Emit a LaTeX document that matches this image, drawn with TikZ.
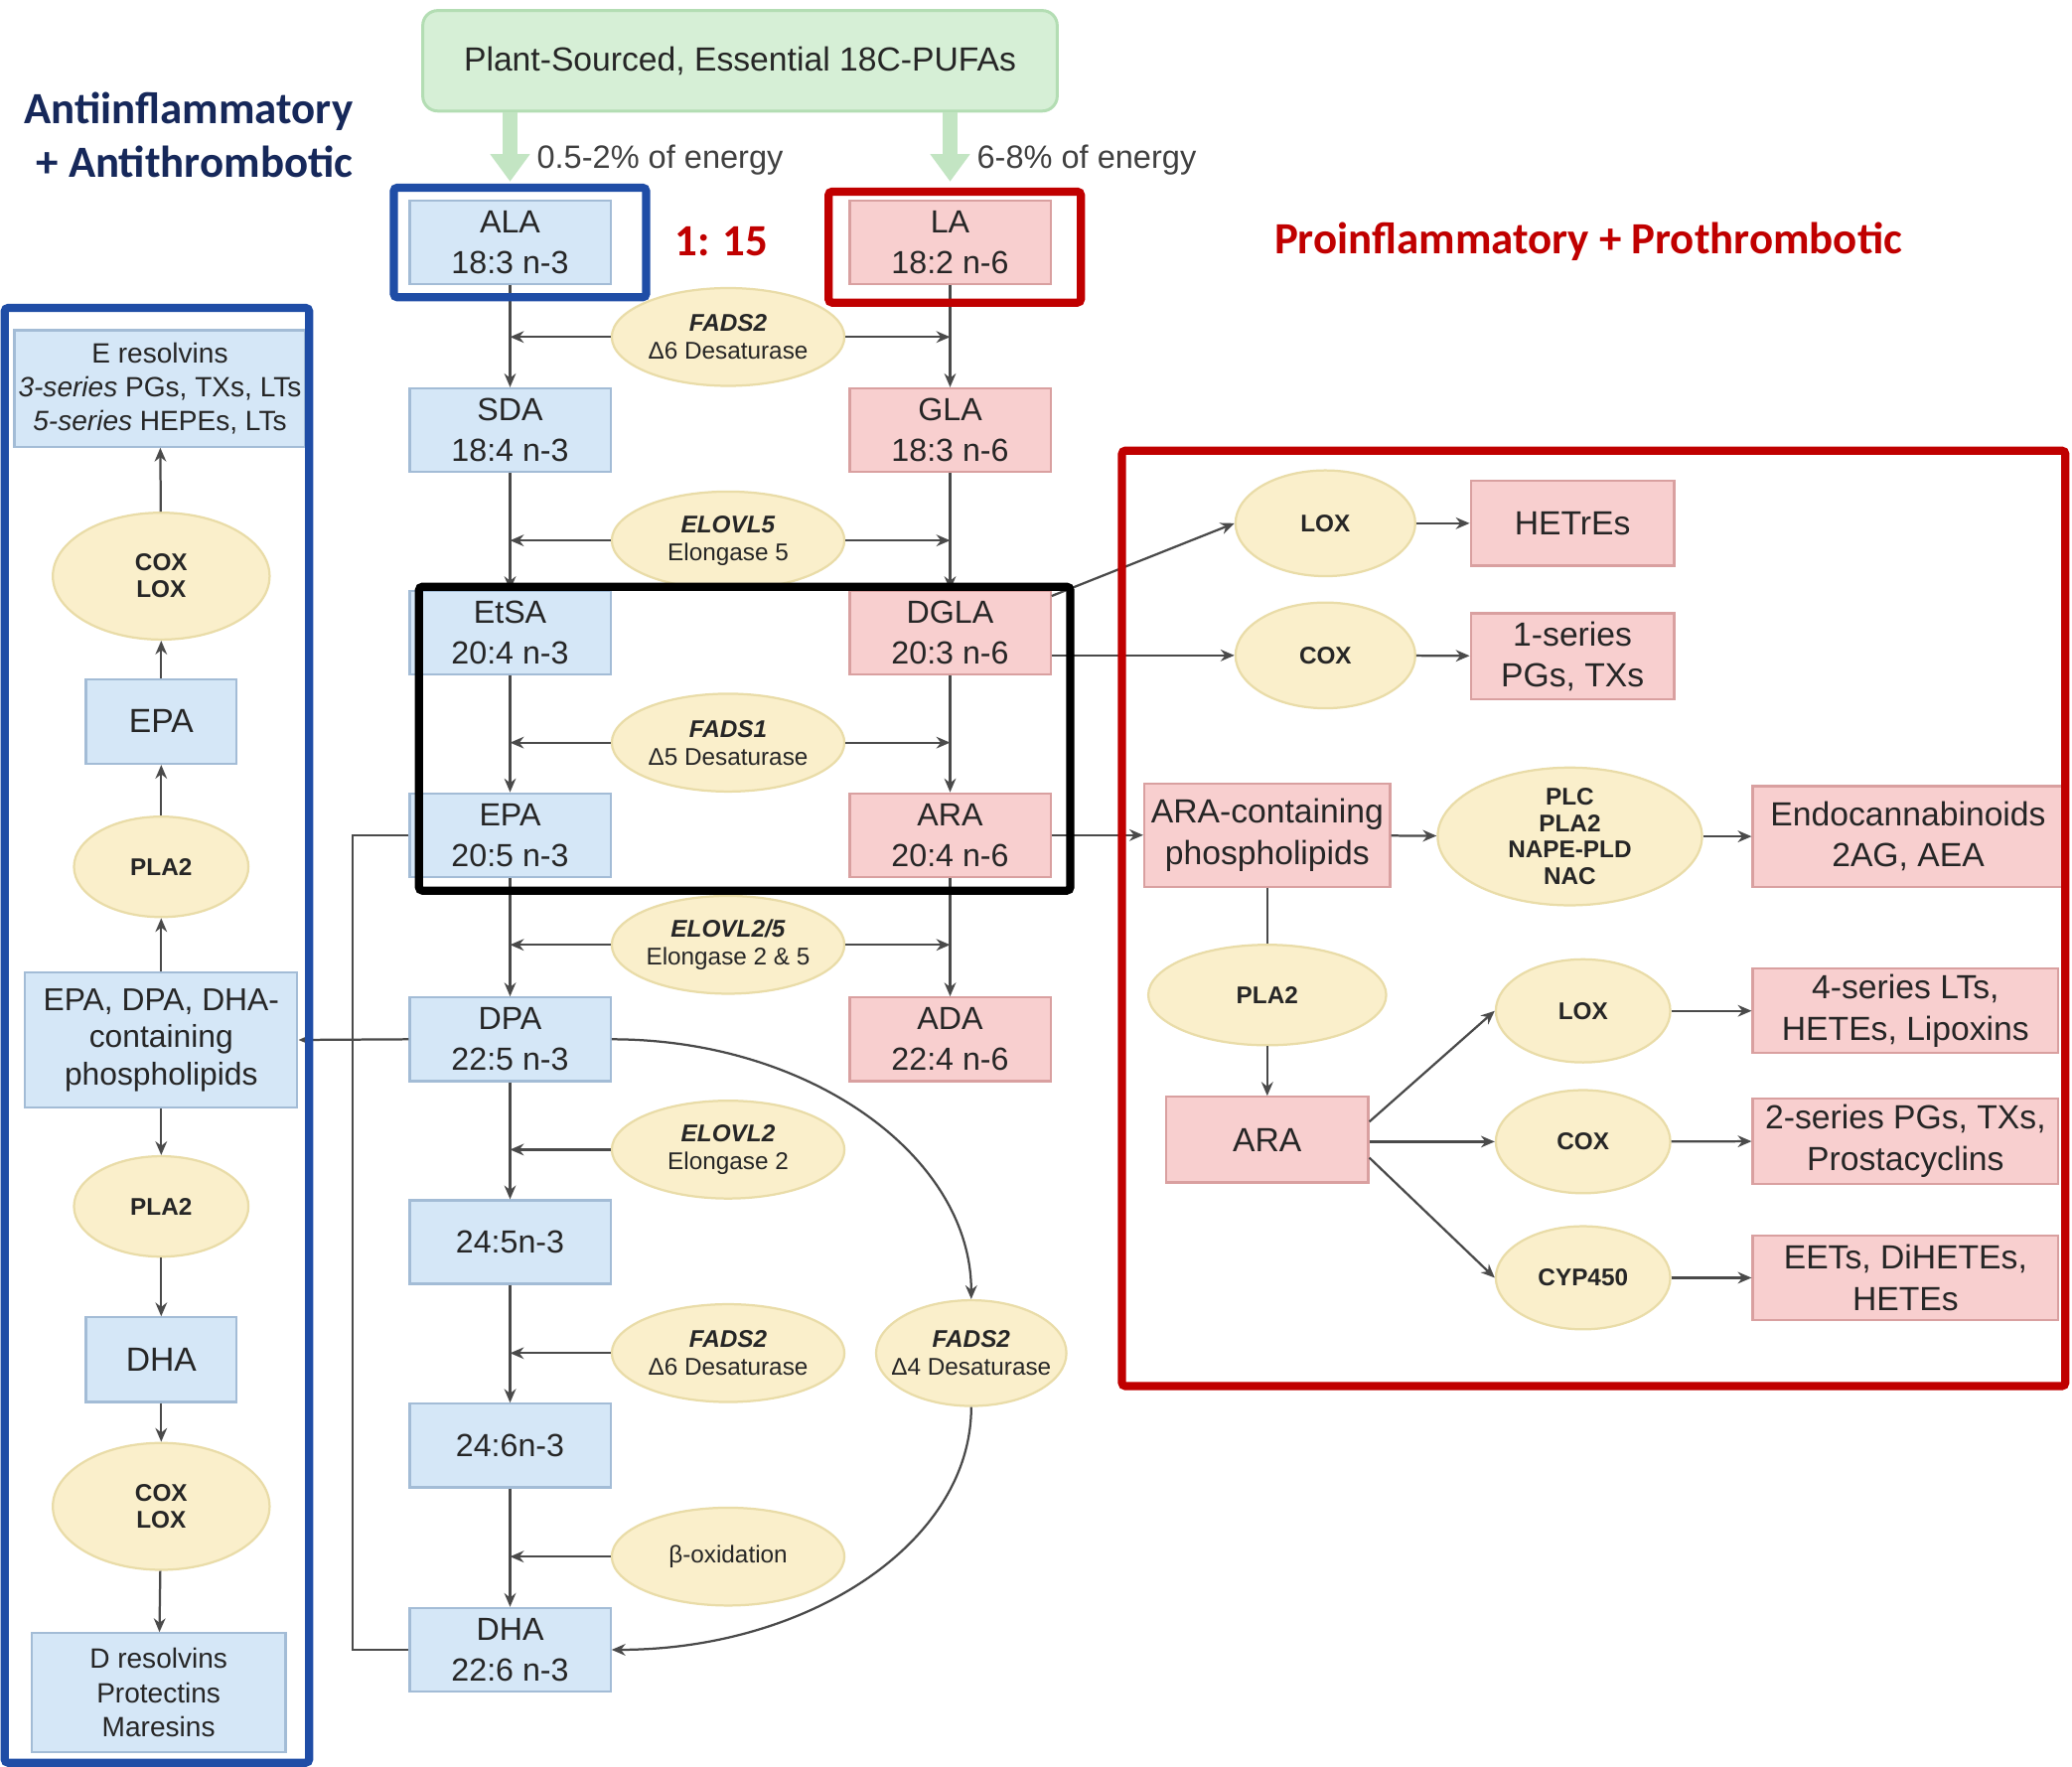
\documentclass[tikz,border=0pt]{standalone}
\usepackage{fontspec}
\setmainfont{Liberation Sans}
\newfontfamily\titlefont{Carlito}
\usetikzlibrary{arrows.meta,shapes.geometric}
\definecolor{omegafill}{HTML}{D5E7F7}
\definecolor{omegaline}{HTML}{A3BCD6}
\definecolor{sixfill}{HTML}{F8CFCF}
\definecolor{sixline}{HTML}{D9A0A0}
\definecolor{enzfill}{HTML}{FAEFCB}
\definecolor{enzline}{HTML}{E9DCA8}
\definecolor{plantfill}{HTML}{D6EFD6}
\definecolor{plantline}{HTML}{B3DDB3}
\definecolor{plantarrow}{HTML}{C3E5C3}
\definecolor{antiblue}{HTML}{1F4DA6}
\definecolor{prored}{HTML}{C00000}
\definecolor{navy}{HTML}{16285A}
\definecolor{wire}{HTML}{4A4A4A}
\newcommand\gene[2]{\textbf{\textit{#1}}\\#2}
\tikzset{
  n3/.style={rectangle, draw=omegaline, fill=omegafill, line width=0.6pt, text=black!85,
    align=center, inner sep=0pt, minimum width=1.9cm, minimum height=0.79cm,
    font=\fontsize{9}{11}\selectfont},
  n6/.style={n3, draw=sixline, fill=sixfill},
  fa/.style={font=\fontsize{8.6}{11}\selectfont},
  enz/.style={ellipse, draw=enzline, fill=enzfill, line width=0.6pt, inner sep=0pt,
    align=center, text=black!85, minimum width=2.2cm, minimum height=0.925cm,
    font=\fontsize{6.5}{7.5}\selectfont},
  enzb/.style={enz, font=\bfseries\fontsize{6.5}{7.2}\selectfont},
  link/.style={draw=wire, line width=0.6pt},
  frame/.style={line width=2.2pt, rounded corners=1pt},
  title/.style={font=\titlefont\bfseries\fontsize{12}{14.5}\selectfont},
}
\begin{document}
\begin{tikzpicture}[x=0.0125cm, y=-0.0125cm, >={Stealth[length=1.3mm,width=1.1mm]}]
\useasboundingbox (0,0) rectangle (1568,1337);

% headings
\node[title, anchor=east, align=right, text=navy] (anti) at (277,102) {Antiinflammatory\\+ Antithrombotic};
\node[title, text=prored] (pro) at (1202,183) {Proinflammatory + Prothrombotic};
\node[title, text=prored] (ratio) at (546,183) {1: 15};

% source
\node[draw=plantline, fill=plantfill, line width=0.8pt, rounded corners=4pt, minimum width=6cm,
  minimum height=0.95cm, text=black!85, font=\fontsize{9}{11}\selectfont] (plant) at (560,46)
  {Plant-Sourced, Essential 18C-PUFAs};

% n-3 column
\node[n3, fa] (ALA) at (386,183.5) {ALA\\18:3 n-3};
\node[n3, fa] (SDA) at (386,325.5) {SDA\\18:4 n-3};
\node[n3, fa] (EtSA) at (386,479) {EtSA\\20:4 n-3};
\node[n3, fa] (EPA) at (386,632) {EPA\\20:5 n-3};
\node[n3, fa] (DPA) at (386,786.5) {DPA\\22:5 n-3};
\node[n3, fa] (C245) at (386,940) {24:5n-3};
\node[n3, fa] (C246) at (386,1094) {24:6n-3};
\node[n3, fa] (DHA) at (386,1248.5) {DHA\\22:6 n-3};

% n-6 column
\node[n6, fa] (LA) at (719,183.5) {LA\\18:2 n-6};
\node[n6, fa] (GLA) at (719,325.5) {GLA\\18:3 n-6};
\node[n6, fa] (DGLA) at (719,479) {DGLA\\20:3 n-6};
\node[n6, fa] (ARA) at (719,632) {ARA\\20:4 n-6};
\node[n6, fa] (ADA) at (719,786.5) {ADA\\22:4 n-6};

% enzymes
\node[enz] (f2a) at (551,255) {\gene{FADS2}{Δ6 Desaturase}};
\node[enz] (el5) at (551,409) {\gene{ELOVL5}{Elongase 5}};
\node[enz] (f1) at (551,562) {\gene{FADS1}{Δ5 Desaturase}};
\node[enz] (el25) at (551,715) {\gene{ELOVL2/5}{Elongase 2 \& 5}};
\node[enz] (el2) at (551,870) {\gene{ELOVL2}{Elongase 2}};
\node[enz] (f2c) at (551,1024) {\gene{FADS2}{Δ6 Desaturase}};
\node[enz, inner xsep=-0.14cm, minimum width=1.8cm, minimum height=1cm] (f2d) at (735,1024) {\gene{FADS2}{Δ4 Desaturase}};
\node[enz] (box) at (551,1178) {β-oxidation};

% energy input
\foreach \f/\t in {ALA/0.5-2\% of energy, LA/6-8\% of energy}{
  \draw[plantarrow, line width=4pt, -{Triangle[length=2.6mm,width=3.6mm]}, shorten >=0.17cm]
    (plant.south -| \f.north) -- (\f.north);
  \node[anchor=west, text=black!75, font=\fontsize{8.7}{11}\selectfont] (\f e) at ([xshift=0.13cm]\f.north |- 0,121) {\t};
}

% chains
\foreach \a/\b in {ALA/SDA, SDA/EtSA, EtSA/EPA, EPA/DPA, DPA/C245, C245/C246, C246/DHA, LA/GLA, GLA/DGLA, DGLA/ARA, ARA/ADA}
  \draw[link,->] (\a) -- (\b);
\foreach \e/\l/\r in {f2a/ALA/LA, el5/SDA/GLA, f1/EtSA/DGLA, el25/EPA/ARA}{
  \draw[link,->] (\e.west) -- (\e.west -| \l.south);
  \draw[link,->] (\e.east) -- (\e.east -| \r.south);
}
\foreach \e in {el2, f2c, box}
  \draw[link,->] (\e.west) -- (\e.west -| DPA.south);
\draw[link,->] (DPA.east) .. controls +(150,0) and +(0,-108) .. (f2d.north);
\draw[link,->] (f2d.south) .. controls +(0,103) and +(148,0) .. (DHA.east);

% n-3 mediators
\node[n3, minimum width=2.75cm, minimum height=1.1cm, font=\fontsize{7.5}{9.2}\selectfont] (Eres) at (121,294)
  {E resolvins\\\textit{3-series} PGs, TXs, LTs\\\textit{5-series} HEPEs, LTs};
\node[enzb, minimum width=2.05cm, minimum height=1.2cm] (coxE) at (122,436) {COX\\LOX};
\node[n3, minimum width=1.425cm, minimum height=0.8cm] (EPAp) at (122,546) {EPA};
\node[enzb, minimum width=1.65cm, minimum height=0.95cm] (pla2E) at (122,656) {PLA2};
\node[n3, minimum width=2.575cm, minimum height=1.275cm, font=\fontsize{8.5}{10}\selectfont] (PLn3) at (122,787)
  {EPA, DPA, DHA-\\containing\\phospholipids};
\node[enzb, minimum width=1.65cm, minimum height=0.95cm] (pla2D) at (122,913) {PLA2};
\node[n3, minimum width=1.425cm, minimum height=0.8cm] (DHAp) at (122,1029) {DHA};
\node[enzb, minimum width=2.05cm, minimum height=1.2cm] (coxD) at (122,1140) {COX\\LOX};
\node[n3, minimum width=2.4cm, minimum height=1.125cm, font=\fontsize{7.5}{9.2}\selectfont] (Dres) at (120,1281)
  {D resolvins\\Protectins\\Maresins};
\foreach \a/\b in {coxE/Eres, EPAp/coxE, pla2E/EPAp, PLn3/pla2E, PLn3/pla2D, pla2D/DHAp, DHAp/coxD, coxD/Dres}
  \draw[link,->] (\a) -- (\b);
\coordinate (bus) at (267,632);
\draw[link] (EPA.west) -- (bus) |- (DHA.west);
\draw[link,->] (DPA.west) -- (PLn3.east);

% n-6 mediators
\node[enzb, minimum width=1.7cm, minimum height=1cm] (lox1) at (1003,396) {LOX};
\node[enzb, minimum width=1.7cm, minimum height=1cm] (cox1) at (1003,496) {COX};
\node[n6, minimum width=1.925cm, minimum height=0.8cm] (HETrE) at (1190,396) {HETrEs};
\node[n6, minimum width=1.925cm, minimum height=0.81cm] (S1) at (1190,496.5) {1-series\\PGs, TXs};
\node[n6, minimum width=2.325cm, minimum height=0.975cm] (ARApl) at (959,632) {ARA-containing\\phospholipids};
\node[enzb, minimum width=2.5cm, minimum height=1.175cm] (plc) at (1188,633) {PLC\\PLA2\\NAPE-PLD\\NAC};
\node[n6, minimum width=2.94cm, minimum height=0.95cm] (endo) at (1444,633) {Endocannabinoids\\2AG, AEA};
\node[enzb, minimum width=2.25cm, minimum height=0.95cm] (pla2R) at (959,753) {PLA2};
\node[n6, minimum width=1.91cm, minimum height=0.81cm] (ARAr) at (959,862.5) {ARA};
\node[enzb, minimum width=1.65cm, minimum height=0.975cm] (lox2) at (1198,765) {LOX};
\node[enzb, minimum width=1.65cm, minimum height=0.975cm] (cox2) at (1198,864) {COX};
\node[enzb, minimum width=1.65cm, minimum height=0.975cm] (cyp) at (1198,967) {CYP450};
\node[n6, minimum width=2.89cm, minimum height=0.8cm] (S4) at (1442,765) {4-series LTs,\\HETEs, Lipoxins};
\node[n6, minimum width=2.89cm, minimum height=0.81cm] (S2) at (1442,863.5) {2-series PGs, TXs,\\Prostacyclins};
\node[n6, minimum width=2.89cm, minimum height=0.8cm] (EET) at (1442,967) {EETs, DiHETEs,\\HETEs};
\draw[link,->] (DGLA.20) -- (lox1.west);
\draw[link,->] (DGLA.east |- cox1.west) -- (cox1.west);
\draw[link,->] (ARA) -- (ARApl);
\draw[link] (ARApl) -- (pla2R);
\draw[link,->] (ARAr.10) -- (lox2.west);
\draw[link,->] (ARAr.east |- cox2.west) -- (cox2.west);
\draw[link,->] (ARAr.-10) -- (cyp.west);
\foreach \a/\b in {lox1/HETrE, cox1/S1, ARApl/plc, plc/endo, pla2R/ARAr, lox2/S4, cox2/S2, cyp/EET}
  \draw[link,->] (\a) -- (\b);

% highlight frames
\draw[frame, antiblue] (298,142) rectangle (489,225);
\draw[frame, prored] (627,145) rectangle (818,229);
\draw[frame, black] (317,444) rectangle (810,674);
\draw[frame, antiblue] (3.5,233) rectangle (234,1334);
\draw[frame, prored] (849,341) rectangle (1563,1049);
\end{tikzpicture}
\end{document}
